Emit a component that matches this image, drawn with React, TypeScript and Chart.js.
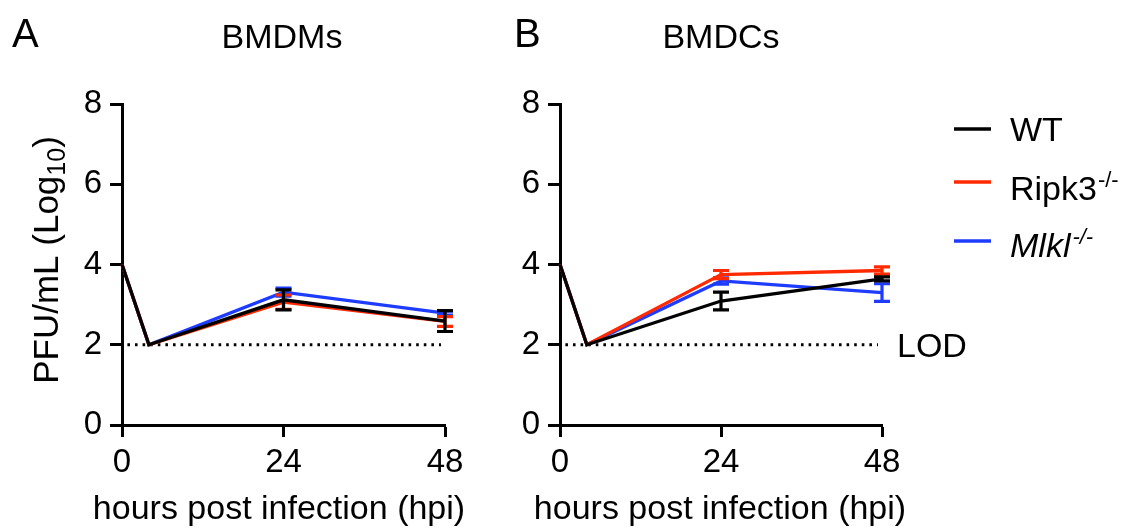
import React, { useEffect, useRef } from 'react';
import { Chart, registerables } from 'chart.js';

Chart.register(...registerables);

// ---- data ----
const HOURS = [0, 4, 24, 48];
const X_TICKS = [0, 24, 48];
const Y_MIN = 0;
const Y_MAX = 8;
const Y_STEP = 2;
const LOD_VALUE = 2;
const LOD_RANGE = [0.8, 47.4];
const X_TITLE = 'hours post infection (hpi)';

const SERIES_NAMES = ['WT', 'Ripk3', 'Mlkl'];
const SERIES_COLORS = ['#000000', '#ff2a00', '#1e3cff'];

// Panel A: BMDMs
const A_WT = [4, 2, 3.12, 2.59];
const A_WT_ERR = [0, 0, 0.25, 0.26];
const A_RIPK3 = [4, 2, 3.06, 2.58];
const A_RIPK3_ERR = [0, 0, 0.18, 0.12];
const A_MLKL = [4, 2, 3.31, 2.79];
const A_MLKL_ERR = [0, 0, 0.1, 0.05];

// Panel B: BMDCs
const B_WT = [4, 2, 3.09, 3.64];
const B_WT_ERR = [0, 0, 0.22, 0.05];
const B_RIPK3 = [4, 2, 3.75, 3.85];
const B_RIPK3_ERR = [0, 0, 0.1, 0.09];
const B_MLKL = [4, 2, 3.59, 3.3];
const B_MLKL_ERR = [0, 0, 0.08, 0.22];

const FONT = '"Liberation Sans", Arial, Helvetica, sans-serif';

const errorBarPlugin = {
  id: 'errorBars',
  afterDatasetDraw(chart: any, args: any) {
    const ds = chart.data.datasets[args.index];
    const errs = ds.errors;
    if (!errs) return;
    const ys = chart.scales.y;
    const ctx = chart.ctx;
    ctx.save();
    ctx.strokeStyle = ds.borderColor;
    ctx.lineWidth = 3.2;
    ctx.lineCap = 'butt';
    args.meta.data.forEach((pt: any, i: number) => {
      const e = errs[i];
      if (!e) return;
      const v = ds.data[i].y;
      const x = pt.x;
      const yTop = ys.getPixelForValue(v + e);
      const yBot = ys.getPixelForValue(v - e);
      ctx.beginPath();
      ctx.moveTo(x, yTop);
      ctx.lineTo(x, yBot);
      ctx.moveTo(x - 8, yTop);
      ctx.lineTo(x + 8, yTop);
      ctx.moveTo(x - 8, yBot);
      ctx.lineTo(x + 8, yBot);
      ctx.stroke();
    });
    ctx.restore();
  },
};

function lodPlugin(showLabel: boolean) {
  return {
    id: 'lod',
    beforeDatasetsDraw(chart: any) {
      const ctx = chart.ctx;
      const xs = chart.scales.x;
      const ys = chart.scales.y;
      const y = ys.getPixelForValue(LOD_VALUE);
      ctx.save();
      ctx.strokeStyle = '#000';
      ctx.lineWidth = 2.8;
      ctx.setLineDash([2.6, 5]);
      ctx.beginPath();
      ctx.moveTo(xs.getPixelForValue(LOD_RANGE[0]), y);
      ctx.lineTo(xs.getPixelForValue(LOD_RANGE[1]), y);
      ctx.stroke();
      ctx.restore();
      if (showLabel) {
        ctx.save();
        ctx.fillStyle = '#000';
        ctx.font = `34px ${FONT}`;
        ctx.textAlign = 'left';
        ctx.textBaseline = 'alphabetic';
        ctx.fillText('LOD', xs.getPixelForValue(48) + 15, y + 12.5);
        ctx.restore();
      }
    },
  };
}

function decorPlugin(opts: {
  letter: string;
  letterX: number;
  title: string;
  titleX: number;
  xTitleX: number;
  yTitle: boolean;
  legend: null | { lineX: number; textX: number; lineYs: number[]; baseYs: number[] };
}) {
  return {
    id: 'decor',
    afterDraw(chart: any) {
      const ctx = chart.ctx;
      ctx.save();
      ctx.fillStyle = '#000';
      ctx.textBaseline = 'alphabetic';
      ctx.textAlign = 'left';
      ctx.font = `40px ${FONT}`;
      ctx.fillText(opts.letter, opts.letterX, 47);
      ctx.textAlign = 'center';
      ctx.font = `34px ${FONT}`;
      ctx.fillText(opts.title, opts.titleX, 48);
      ctx.fillText(X_TITLE, opts.xTitleX, 519);

      if (opts.yTitle) {
        ctx.save();
        ctx.translate(58, 260);
        ctx.rotate(-Math.PI / 2);
        ctx.textAlign = 'left';
        const main = 'PFU/mL (Log';
        const sub = '10';
        const close = ')';
        ctx.font = `35px ${FONT}`;
        const wMain = ctx.measureText(main).width;
        const wClose = ctx.measureText(close).width;
        ctx.font = `25px ${FONT}`;
        const wSub = ctx.measureText(sub).width;
        const total = wMain + wSub + wClose;
        let u = -total / 2;
        ctx.font = `35px ${FONT}`;
        ctx.fillText(main, u, 0);
        u += wMain;
        ctx.font = `25px ${FONT}`;
        ctx.fillText(sub, u, 7);
        u += wSub;
        ctx.font = `35px ${FONT}`;
        ctx.fillText(close, u, 0);
        ctx.restore();
      }

      if (opts.legend) {
        const lg = opts.legend;
        SERIES_NAMES.forEach((name, i) => {
          ctx.strokeStyle = SERIES_COLORS[i];
          ctx.lineWidth = 3.5;
          ctx.beginPath();
          ctx.moveTo(lg.lineX, lg.lineYs[i]);
          ctx.lineTo(lg.lineX + 37, lg.lineYs[i]);
          ctx.stroke();
          ctx.fillStyle = '#000';
          ctx.textAlign = 'left';
          const italic = name === 'Mlkl';
          ctx.font = `${italic ? 'italic ' : ''}34px ${FONT}`;
          ctx.fillText(name, lg.textX, lg.baseYs[i]);
          if (name !== 'WT') {
            const w = ctx.measureText(name).width;
            ctx.font = `${italic ? 'italic ' : ''}22px ${FONT}`;
            ctx.fillText('-/-', lg.textX + w + (italic ? 2 : 1), lg.baseYs[i] - 13);
          }
        });
      }
      ctx.restore();
    },
  };
}

function makeDatasets(values: number[][], errors: number[][]) {
  return values.map((vals, i) => ({
    label: SERIES_NAMES[i],
    data: HOURS.map((h, j) => ({ x: h, y: vals[j] })),
    errors: errors[i],
    borderColor: SERIES_COLORS[i],
    backgroundColor: SERIES_COLORS[i],
    borderWidth: 3.3,
    pointRadius: 0,
    pointHoverRadius: 0,
    tension: 0,
    clip: false,
    fill: false,
  }));
}

function makeOptions(yWidth: number, rightPad: number) {
  const tickFont = { family: FONT, size: 33 };
  return {
    responsive: false,
    animation: false,
    events: [],
    layout: { padding: { left: 0, right: rightPad, top: 104, bottom: 0 } },
    plugins: { legend: { display: false }, tooltip: { enabled: false }, title: { display: false } },
    scales: {
      x: {
        type: 'linear',
        min: 0,
        max: 48,
        afterBuildTicks: (s: any) => {
          s.ticks = X_TICKS.map((v) => ({ value: v }));
        },
        afterFit: (s: any) => {
          s.height = 104;
        },
        border: { display: true, color: '#000', width: 3 },
        grid: { display: true, drawOnChartArea: false, drawTicks: true, tickLength: 12, tickWidth: 3, tickColor: '#000' },
        ticks: { color: '#000', font: tickFont, padding: 6, maxRotation: 0, autoSkip: false },
        title: { display: false },
      },
      y: {
        type: 'linear',
        min: Y_MIN,
        max: Y_MAX,
        ticks: { stepSize: Y_STEP, color: '#000', font: tickFont, padding: 8 },
        afterFit: (s: any) => {
          s.width = yWidth;
        },
        border: { display: true, color: '#000', width: 3 },
        grid: { display: true, drawOnChartArea: false, drawTicks: true, tickLength: 12, tickWidth: 3, tickColor: '#000' },
      },
    },
  };
}

function Panel(props: {
  left: number;
  width: number;
  yWidth: number;
  rightPad: number;
  values: number[][];
  errors: number[][];
  plugins: any[];
}) {
  const ref = useRef<HTMLCanvasElement | null>(null);
  useEffect(() => {
    if (!ref.current) return;
    const chart = new Chart(ref.current, {
      type: 'line',
      data: { datasets: makeDatasets(props.values, props.errors) as any },
      options: makeOptions(props.yWidth, props.rightPad) as any,
      plugins: [errorBarPlugin, ...props.plugins],
    });
    return () => chart.destroy();
  }, []);
  return (
    <canvas
      ref={ref}
      width={props.width}
      height={529}
      style={{ position: 'absolute', left: props.left, top: 0, width: props.width, height: 529, display: 'block' }}
    />
  );
}

export default function App() {
  return (
    <div style={{ position: 'absolute', left: 0, top: 0, width: 1126, height: 529, background: '#fff', overflow: 'hidden' }}>
      <Panel
        left={0}
        width={500}
        yWidth={122}
        rightPad={55}
        values={[A_WT, A_RIPK3, A_MLKL]}
        errors={[A_WT_ERR, A_RIPK3_ERR, A_MLKL_ERR]}
        plugins={[
          lodPlugin(false),
          decorPlugin({ letter: 'A', letterX: 12, title: 'BMDMs', titleX: 282, xTitleX: 279, yTitle: true, legend: null }),
        ]}
      />
      <Panel
        left={500}
        width={626}
        yWidth={60}
        rightPad={244}
        values={[B_WT, B_RIPK3, B_MLKL]}
        errors={[B_WT_ERR, B_RIPK3_ERR, B_MLKL_ERR]}
        plugins={[
          lodPlugin(true),
          decorPlugin({
            letter: 'B',
            letterX: 14,
            title: 'BMDCs',
            titleX: 221,
            xTitleX: 220,
            yTitle: false,
            legend: { lineX: 454, textX: 510, lineYs: [129, 182, 241], baseYs: [141, 200, 257] },
          }),
        ]}
      />
    </div>
  );
}
